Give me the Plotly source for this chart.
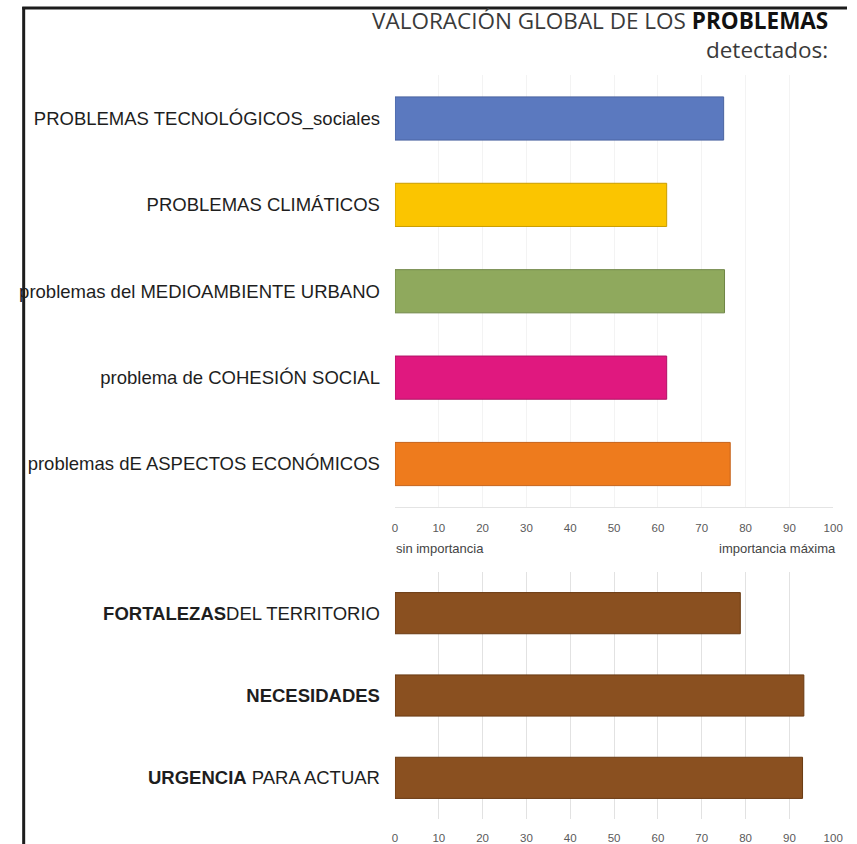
import plotly.graph_objects as go

W, H = 857, 844

# ---- data ----
problem_labels = [
    "PROBLEMAS TECNOLÓGICOS_sociales",
    "PROBLEMAS CLIMÁTICOS",
    "problemas del MEDIOAMBIENTE URBANO",
    "problema de COHESIÓN SOCIAL",
    "problemas dE ASPECTOS ECONÓMICOS",
]
problem_values = [75, 62, 75.2, 62, 76.5]
problem_colors = ["#5b79bf", "#fbc500", "#8fa95d", "#e0187f", "#ee7b1d"]
problem_edges = ["#4a63a0", "#c99d00", "#6f8545", "#b01265", "#c5621a"]

summary_labels = [
    "<b>FORTALEZAS</b>DEL TERRITORIO",
    "<b>NECESIDADES</b>",
    "<b>URGENCIA</b> PARA ACTUAR",
]
summary_values = [78.8, 93.3, 93.0]
summary_color = "#8a5020"
summary_edge = "#6a3a12"

tick_vals = [0, 10, 20, 30, 40, 50, 60, 70, 80, 90, 100]

def px_x(p):
    return p / W

def px_y(p):
    return 1 - p / H

fig = go.Figure()

fig.add_trace(go.Bar(
    x=problem_values, y=problem_labels, orientation="h",
    marker=dict(color=problem_colors, line=dict(color=problem_edges, width=1)),
    width=0.5, xaxis="x", yaxis="y", hoverinfo="x+y", showlegend=False,
))
fig.add_trace(go.Bar(
    x=summary_values, y=summary_labels, orientation="h",
    marker=dict(color=summary_color, line=dict(color=summary_edge, width=1)),
    width=0.5, xaxis="x2", yaxis="y2", hoverinfo="x", showlegend=False,
))

label_font = dict(family="Liberation Sans, Arial, sans-serif", size=18.5, color="#1e1e1e")
tick_font = dict(family="Liberation Sans, Arial, sans-serif", size=11.5, color="#5a5a5a")

x_dom = [px_x(398), px_x(843)]

fig.update_layout(
    width=W, height=H, autosize=False,
    margin=dict(l=0, r=0, t=0, b=0),
    paper_bgcolor="white", plot_bgcolor="white",
    xaxis=dict(
        domain=x_dom, range=[0, 100], tickvals=tick_vals, anchor="y",
        showgrid=True, gridcolor="#f3f3f3", zeroline=False,
        showline=True, linecolor="#e4e4e4", linewidth=1,
        ticks="", ticklabelstandoff=10, tickfont=tick_font,
    ),
    yaxis=dict(
        domain=[px_y(507.2), px_y(75.3)], range=[4.5, -0.5],
        categoryorder="array", categoryarray=problem_labels,
        anchor="x", ticks="", ticklabelstandoff=14, tickfont=label_font,
        showgrid=False, zeroline=False, showline=False,
    ),
    xaxis2=dict(
        domain=x_dom, range=[0, 100], tickvals=tick_vals, anchor="y2",
        showgrid=True, gridcolor="#e2e2e2", gridwidth=1, zeroline=False,
        showline=False, ticks="", ticklabelstandoff=10, tickfont=tick_font,
    ),
    yaxis2=dict(
        domain=[px_y(819.0), px_y(572.0)], range=[2.5, -0.5],
        categoryorder="array", categoryarray=summary_labels,
        anchor="x2", ticks="", ticklabelstandoff=14, tickfont=label_font,
        showgrid=False, zeroline=False, showline=False,
    ),
    bargap=0.5,
)

title_font = dict(family="Open Sans, Lato, sans-serif", size=22.5, color="#3a3a3a")
fig.add_annotation(
    x=px_x(840), y=px_y(35.5), xref="paper", yref="paper",
    xanchor="right", yanchor="middle", align="right", showarrow=False,
    text="VALORACIÓN GLOBAL DE LOS <b style='color:#111'>PROBLEMAS</b><br>detectados:",
    font=title_font,
)
axis_note_font = dict(family="Liberation Sans, Arial, sans-serif", size=13, color="#444444")
fig.add_annotation(
    x=px_x(397), y=px_y(548), xref="paper", yref="paper",
    xanchor="left", yanchor="middle", showarrow=False,
    text="sin importancia", font=axis_note_font,
)
fig.add_annotation(
    x=px_x(848), y=px_y(548), xref="paper", yref="paper",
    xanchor="right", yanchor="middle", showarrow=False,
    text="importancia máxima", font=axis_note_font,
)

# frame lines (left and top)
fig.add_shape(type="line", xref="paper", yref="paper",
              x0=px_x(21), x1=px_x(21), y0=0, y1=px_y(7),
              line=dict(color="#1c1c1c", width=3))
fig.add_shape(type="line", xref="paper", yref="paper",
              x0=px_x(19.5), x1=1, y0=px_y(8), y1=px_y(8),
              line=dict(color="#1c1c1c", width=3))

fig.write_html(
    "out.html",
    config={"displayModeBar": False, "responsive": False},
    post_script=(
        "document.body.style.margin='0';"
        "document.body.style.overflow='hidden';"
        "var gd=document.getElementById('{plot_id}');"
        "Plotly.relayout(gd,{width:857,height:844});"
    ),
)
